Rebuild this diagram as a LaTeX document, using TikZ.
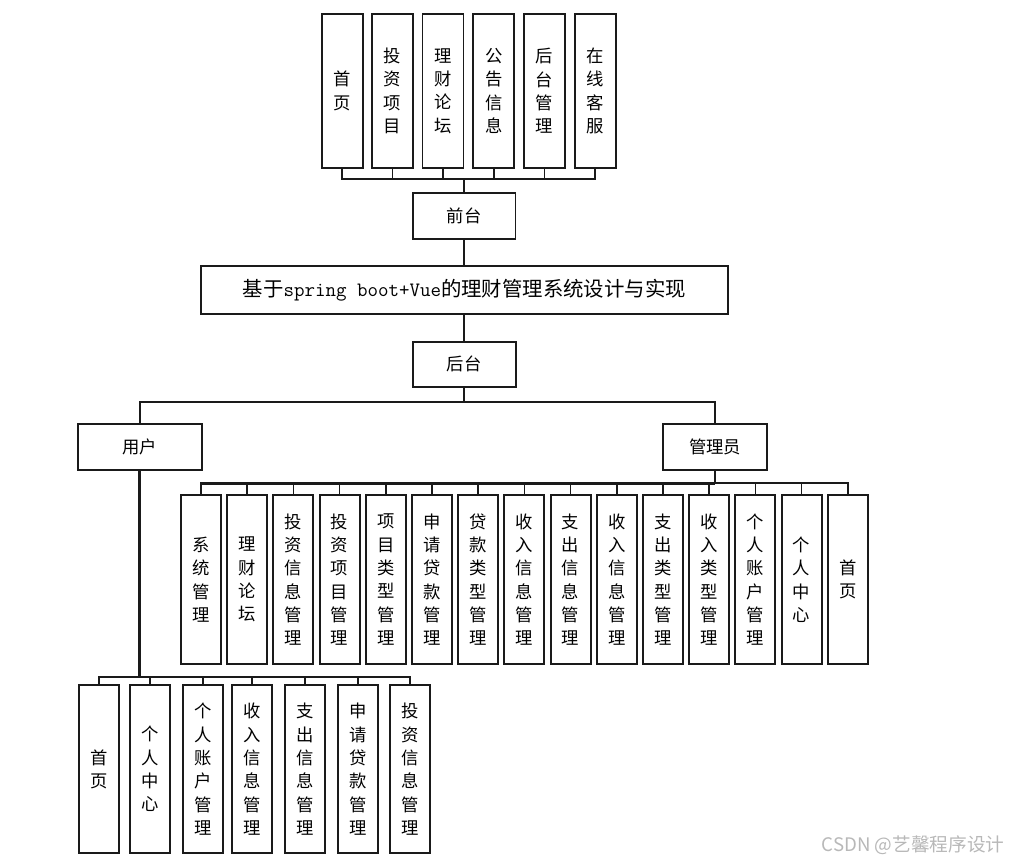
\documentclass[tikz,border=0pt]{standalone}
\usepackage{fontspec}
\usepackage{tikz}
\usetikzlibrary{positioning}
\setmainfont{Noto Sans CJK SC}
\definecolor{linegray}{HTML}{1A1A1A}
\definecolor{markgray}{HTML}{B8B8B8}

\begin{document}
\begin{tikzpicture}[x=0.75pt, y=-0.75pt,
            vb/.style={draw=linegray, fill=white, line width=1.4pt, minimum width=30pt, inner sep=0pt, align=center, font=\fontsize{13}{17.5}\selectfont},
            hb/.style={draw=linegray, fill=white, line width=1.4pt, minimum height=34.5pt, inner sep=0pt, font=\fontsize{13}{17.5}\selectfont},
            ln/.style={linegray, line width=1.3pt},
            tk/.style={linegray, line width=2.1pt}]
            \useasboundingbox (0,0) rectangle (1013,863);
            \node[vb, minimum width=30.75pt, minimum height=115.5pt] (f1) at (342.2,91) {首\\页};
            \node[vb, minimum width=30.75pt, minimum height=115.5pt] (f2) at (392.5,91) {投\\资\\项\\目};
            \node[vb, minimum width=30.75pt, minimum height=115.5pt] (f3) at (443,91) {理\\财\\论\\坛};
            \node[vb, minimum width=30.75pt, minimum height=115.5pt] (f4) at (493.7,91) {公\\告\\信\\息};
            \node[vb, minimum width=30.75pt, minimum height=115.5pt] (f5) at (544.5,91) {后\\台\\管\\理};
            \node[vb, minimum width=30.75pt, minimum height=115.5pt] (f6) at (595.3,91) {在\\线\\客\\服};
            \coordinate (fbus) at (464.3,179);
            \node[hb, minimum width=76.7pt] (front) at (464.3,216.3) {前台};
            \node[hb, minimum width=395pt, minimum height=36.5pt, font=\fontsize{15.3}{17.5}\selectfont] (title) at (464.3,290) {基于\texttt{spring boot+Vue}的理财管理系统设计与实现};
            \node[hb, minimum width=77.25pt, minimum height=33.75pt] (back) at (464.3,364.2) {后台};
            \coordinate (hbus) at (464.3,402);
            \node[hb, minimum width=93pt] (user) at (139.7,447.3) {用户};
            \node[hb, minimum width=77.5pt] (admin) at (715,447.3) {管理员};
            \coordinate (abus) at (715,483.3);
            \node[vb, minimum height=127pt] (a1) at (201,579.7) {系\\统\\管\\理};
            \node[vb, minimum height=127pt] (a2) at (247.2,579.7) {理\\财\\论\\坛};
            \node[vb, minimum height=127pt] (a3) at (293.4,579.7) {投\\资\\信\\息\\管\\理};
            \node[vb, minimum height=127pt] (a4) at (339.6,579.7) {投\\资\\项\\目\\管\\理};
            \node[vb, minimum height=127pt] (a5) at (385.8,579.7) {项\\目\\类\\型\\管\\理};
            \node[vb, minimum height=127pt] (a6) at (432,579.7) {申\\请\\贷\\款\\管\\理};
            \node[vb, minimum height=127pt] (a7) at (478.2,579.7) {贷\\款\\类\\型\\管\\理};
            \node[vb, minimum height=127pt] (a8) at (524.4,579.7) {收\\入\\信\\息\\管\\理};
            \node[vb, minimum height=127pt] (a9) at (570.6,579.7) {支\\出\\信\\息\\管\\理};
            \node[vb, minimum height=127pt] (a10) at (616.8,579.7) {收\\入\\信\\息\\管\\理};
            \node[vb, minimum height=127pt] (a11) at (663,579.7) {支\\出\\类\\型\\管\\理};
            \node[vb, minimum height=127pt] (a12) at (709.2,579.7) {收\\入\\类\\型\\管\\理};
            \node[vb, minimum height=127pt] (a13) at (755.4,579.7) {个\\人\\账\\户\\管\\理};
            \node[vb, minimum height=127pt] (a14) at (801.6,579.7) {个\\人\\中\\心};
            \node[vb, minimum height=127pt] (a15) at (847.8,579.7) {首\\页};
            \coordinate (ubus) at (139.7,676.7);
            \node[vb, minimum height=126.2pt] (u1) at (98.7,769.2) {首\\页};
            \node[vb, minimum height=126.2pt] (u2) at (150.3,769.2) {个\\人\\中\\心};
            \node[vb, minimum height=126.2pt] (u3) at (203,769.2) {个\\人\\账\\户\\管\\理};
            \node[vb, minimum height=126.2pt] (u4) at (251.7,769.2) {收\\入\\信\\息\\管\\理};
            \node[vb, minimum height=126.2pt] (u5) at (305,769.2) {支\\出\\信\\息\\管\\理};
            \node[vb, minimum height=126.2pt] (u6) at (357.7,769.2) {申\\请\\贷\\款\\管\\理};
            \node[vb, minimum height=126.2pt] (u7) at (410,769.2) {投\\资\\信\\息\\管\\理};
            \draw[ln] (f1.south) |- (fbus);
            \draw[ln] (f2.south) |- (fbus);
            \draw[ln] (f3.south) |- (fbus);
            \draw[ln] (f4.south) |- (fbus);
            \draw[ln] (f5.south) |- (fbus);
            \draw[ln] (f6.south) |- (fbus);
            \draw[ln] (fbus) -- (front.north);
            \draw[ln] (front.south) -- (title.north);
            \draw[ln] (title.south) -- (back.north);
            \draw[ln] (back.south) -- (hbus);
            \draw[ln] (user.north) |- (hbus);
            \draw[ln] (admin.north) |- (hbus);
            \draw[tk] (admin.south) -- (abus);
            \draw[tk] (a1.north |- abus) -- (abus);
            \draw[ln] (a1.north) |- (abus);
            \draw[ln] (a2.north) |- (abus);
            \draw[ln] (a3.north) |- (abus);
            \draw[ln] (a4.north) |- (abus);
            \draw[ln] (a5.north) |- (abus);
            \draw[ln] (a6.north) |- (abus);
            \draw[ln] (a7.north) |- (abus);
            \draw[ln] (a8.north) |- (abus);
            \draw[ln] (a9.north) |- (abus);
            \draw[ln] (a10.north) |- (abus);
            \draw[ln] (a11.north) |- (abus);
            \draw[ln] (a12.north) |- (abus);
            \draw[ln] (a13.north) |- (abus);
            \draw[ln] (a14.north) |- (abus);
            \draw[ln] (a15.north) |- (abus);
            \draw[tk] (user.south) -- (ubus);
            \draw[ln] (u1.north) |- (ubus);
            \draw[ln] (u2.north) |- (ubus);
            \draw[ln] (u3.north) |- (ubus);
            \draw[ln] (u4.north) |- (ubus);
            \draw[ln] (u5.north) |- (ubus);
            \draw[ln] (u6.north) |- (ubus);
            \draw[ln] (u7.north) |- (ubus);
            \node[markgray, font=\fontsize{14}{16}\selectfont] (mark) at (913,845) {CSDN @艺馨程序设计};
        \end{tikzpicture}
\end{document}
